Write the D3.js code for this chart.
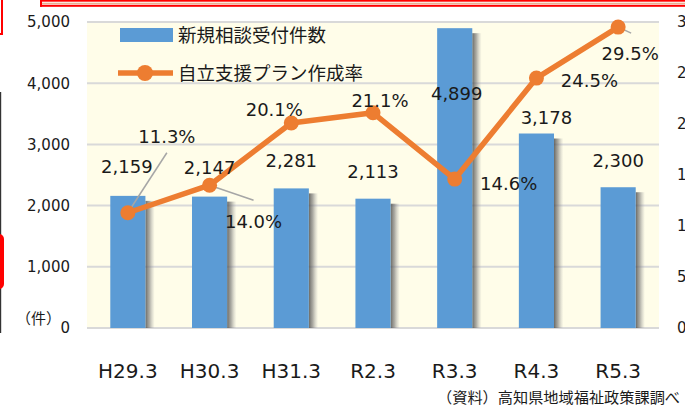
<!DOCTYPE html>
<html>
<head>
<meta charset="utf-8">
<script src="https://cdn.jsdelivr.net/npm/d3@7"></script>
<style>
  html, body { margin: 0; padding: 0; background: #fff; }
  svg { display: block; }
</style>
</head>
<body>
<div id="chart"></div>
<script>
const categories = ["H29.3", "H30.3", "H31.3", "R2.3", "R3.3", "R4.3", "R5.3"];
const consultCounts = [2159, 2147, 2281, 2113, 4899, 3178, 2300];
const planRates = [11.3, 14.0, 20.1, 21.1, 14.6, 24.5, 29.5];
const leftTicks = [0, 1000, 2000, 3000, 4000, 5000];
const rightTicks = [0, 5, 10, 15, 20, 25, 30];
const seriesNames = ["新規相談受付件数", "自立支援プラン作成率"];

// hand-placed label nudges, as in the original
const countLabelNudge = [[-1, -29], [0, -29], [0, -28], [0, -27], [2, 65], [10, -16], [0, -27]];
const rateLabelNudge = [[39, -76], [44, 36], [-17, -13], [7, -12], [54, 4], [53, 2], [12, 26]];
const rateLeaders = [[39, -60], [44, 15], null, null, null, null, [13, 6]];

const BAR_FILL = "#5B9BD5";
const LINE_STROKE = "#ED7D31";
const GRID_STROKE = "#D9D9D9";
const PLOT_BG = "#FFFDE9";
const TEXT_FILL = "#1a1a1a";
const NUM_FONT = "'DejaVu Sans', Verdana, sans-serif";
const JP_FONT = "'Noto Sans CJK JP', sans-serif";

const width = 685;
const height = 405;
const plot = { left: 87, right: 659, top: 22, bottom: 328 };

const svg = d3.select("#chart").append("svg")
  .attr("width", width)
  .attr("height", height);

// page bits that the crop caught around the chart
svg.append("rect").attr("x", 40).attr("y", 0).attr("width", 645).attr("height", 1.7).attr("fill", "#ff0000");
svg.append("rect").attr("x", 40).attr("y", 2.7).attr("width", 645).attr("height", 1.5).attr("fill", "#e8b090");
svg.append("rect").attr("x", 40).attr("y", 4.8).attr("width", 645).attr("height", 2).attr("fill", "#ff0000");
svg.append("rect").attr("x", 40).attr("y", 0).attr("width", 2).attr("height", 6.8).attr("fill", "#ff0000");
svg.append("rect").attr("x", 0).attr("y", 0).attr("width", 3).attr("height", 35).attr("fill", "#ff0000");
svg.append("rect").attr("x", 0).attr("y", 0).attr("width", 1).attr("height", 33).attr("fill", "#fff");
svg.append("rect").attr("x", 0).attr("y", 92).attr("width", 1.2).attr("height", 241).attr("fill", "#333");
svg.append("rect").attr("x", -6).attr("y", 234).attr("width", 10).attr("height", 55).attr("rx", 5).attr("fill", "#ff0000");

const x = d3.scaleBand()
  .domain(categories)
  .range([plot.left, plot.right])
  .padding(0);
const barWidth = x.bandwidth() * 0.43;
const cx = (c) => x(c) + x.bandwidth() / 2;

const yCount = d3.scaleLinear().domain([0, 5000]).range([plot.bottom, plot.top]);
const yRate = d3.scaleLinear().domain([0, 30]).range([plot.bottom, plot.top]);

svg.append("rect")
  .attr("x", plot.left)
  .attr("y", plot.top)
  .attr("width", plot.right - plot.left)
  .attr("height", plot.bottom - plot.top)
  .attr("fill", PLOT_BG);

svg.append("g")
  .selectAll("line")
  .data(leftTicks)
  .join("line")
  .attr("x1", plot.left)
  .attr("x2", plot.right)
  .attr("y1", (d) => yCount(d))
  .attr("y2", (d) => yCount(d))
  .attr("stroke", GRID_STROKE)
  .attr("stroke-width", 2);

// left axis
const leftAxis = svg.append("g")
  .attr("transform", `translate(${plot.left - 17},0)`)
  .call(d3.axisLeft(yCount).tickValues(leftTicks).tickSize(0).tickPadding(0).tickFormat(d3.format(",")));
leftAxis.select(".domain").remove();
leftAxis.selectAll("text")
  .attr("font-family", NUM_FONT)
  .attr("font-size", 15)
  .attr("fill", TEXT_FILL);

// right axis (clipped by the image edge, as in the source crop)
const rightAxis = svg.append("g")
  .attr("transform", `translate(${plot.right + 18},0)`)
  .call(d3.axisRight(yRate).tickValues(rightTicks).tickSize(0).tickPadding(0).tickFormat((d) => d + "%"));
rightAxis.select(".domain").remove();
rightAxis.selectAll("text")
  .attr("font-family", NUM_FONT)
  .attr("font-size", 15)
  .attr("fill", TEXT_FILL);

svg.append("text")
  .attr("x", 16)
  .attr("y", 324)
  .attr("font-family", JP_FONT)
  .attr("font-size", 15)
  .attr("fill", TEXT_FILL)
  .text("（件）");

// bottom axis
const bottomAxis = svg.append("g")
  .attr("transform", `translate(0,${plot.bottom})`)
  .call(d3.axisBottom(x).tickSize(0).tickPadding(36));
bottomAxis.select(".domain").remove();
bottomAxis.selectAll("text")
  .attr("font-family", NUM_FONT)
  .attr("font-size", 20)
  .attr("fill", TEXT_FILL);

// bar shadows
const defs = svg.append("defs");
const shadowGrad = defs.append("linearGradient")
  .attr("id", "bar-shadow")
  .attr("x1", "0").attr("x2", "1").attr("y1", "0").attr("y2", "0");
shadowGrad.append("stop").attr("offset", "0").attr("stop-color", "#444").attr("stop-opacity", 0.8);
shadowGrad.append("stop").attr("offset", "0.45").attr("stop-color", "#777").attr("stop-opacity", 0.6);
shadowGrad.append("stop").attr("offset", "1").attr("stop-color", "#aaa").attr("stop-opacity", 0.05);

svg.append("g")
  .selectAll("rect")
  .data(consultCounts)
  .join("rect")
  .attr("x", (d, i) => cx(categories[i]) + barWidth / 2)
  .attr("y", (d) => yCount(d) + 5)
  .attr("width", 9)
  .attr("height", (d) => plot.bottom - yCount(d) - 5)
  .attr("fill", "url(#bar-shadow)");

svg.append("g")
  .selectAll("rect")
  .data(consultCounts)
  .join("rect")
  .attr("x", (d, i) => cx(categories[i]) - barWidth / 2)
  .attr("y", (d) => yCount(d))
  .attr("width", barWidth)
  .attr("height", (d) => plot.bottom - yCount(d))
  .attr("fill", BAR_FILL);

// leader lines
svg.append("g")
  .selectAll("line")
  .data(planRates.map((r, i) => ({ r, i, leader: rateLeaders[i] })).filter((d) => d.leader))
  .join("line")
  .attr("x1", (d) => cx(categories[d.i]))
  .attr("y1", (d) => yRate(d.r))
  .attr("x2", (d) => cx(categories[d.i]) + d.leader[0])
  .attr("y2", (d) => yRate(d.r) + d.leader[1])
  .attr("stroke", "#A6A6A6")
  .attr("stroke-width", 1.5);

// rate line
const rateLine = d3.line()
  .x((d, i) => cx(categories[i]))
  .y((d) => yRate(d));

svg.append("path")
  .datum(planRates)
  .attr("d", rateLine)
  .attr("fill", "none")
  .attr("stroke", LINE_STROKE)
  .attr("stroke-width", 5.5)
  .attr("stroke-linejoin", "round");

svg.append("g")
  .selectAll("circle")
  .data(planRates)
  .join("circle")
  .attr("cx", (d, i) => cx(categories[i]))
  .attr("cy", (d) => yRate(d))
  .attr("r", 7.5)
  .attr("fill", LINE_STROKE);

// data labels
svg.append("g")
  .selectAll("text")
  .data(consultCounts)
  .join("text")
  .attr("x", (d, i) => cx(categories[i]) + countLabelNudge[i][0])
  .attr("y", (d, i) => yCount(d) + countLabelNudge[i][1])
  .attr("dy", "0.36em")
  .attr("text-anchor", "middle")
  .attr("font-family", NUM_FONT)
  .attr("font-size", 18)
  .attr("fill", TEXT_FILL)
  .text((d) => d3.format(",")(d));

svg.append("g")
  .selectAll("text")
  .data(planRates)
  .join("text")
  .attr("x", (d, i) => cx(categories[i]) + rateLabelNudge[i][0])
  .attr("y", (d, i) => yRate(d) + rateLabelNudge[i][1])
  .attr("dy", "0.36em")
  .attr("text-anchor", "middle")
  .attr("font-family", NUM_FONT)
  .attr("font-size", 18)
  .attr("fill", TEXT_FILL)
  .text((d) => d.toFixed(1) + "%");

// legend
const legend = svg.append("g");
legend.append("rect")
  .attr("x", 120).attr("y", 28).attr("width", 53).attr("height", 14)
  .attr("fill", BAR_FILL);
legend.append("line")
  .attr("x1", 118).attr("x2", 173).attr("y1", 73).attr("y2", 73)
  .attr("stroke", LINE_STROKE).attr("stroke-width", 5.5);
legend.append("circle")
  .attr("cx", 145).attr("cy", 73).attr("r", 8)
  .attr("fill", LINE_STROKE);
legend.selectAll("text")
  .data(seriesNames)
  .join("text")
  .attr("x", 178)
  .attr("y", (d, i) => 35 + i * 38)
  .attr("dy", "0.36em")
  .attr("font-family", JP_FONT)
  .attr("font-size", 18.5)
  .attr("fill", TEXT_FILL)
  .text((d) => d);

svg.append("text")
  .attr("x", 437)
  .attr("y", 403)
  .attr("font-family", JP_FONT)
  .attr("font-size", 15.2)
  .attr("fill", TEXT_FILL)
  .text("（資料）高知県地域福祉政策課調べ");
</script>
</body>
</html>
